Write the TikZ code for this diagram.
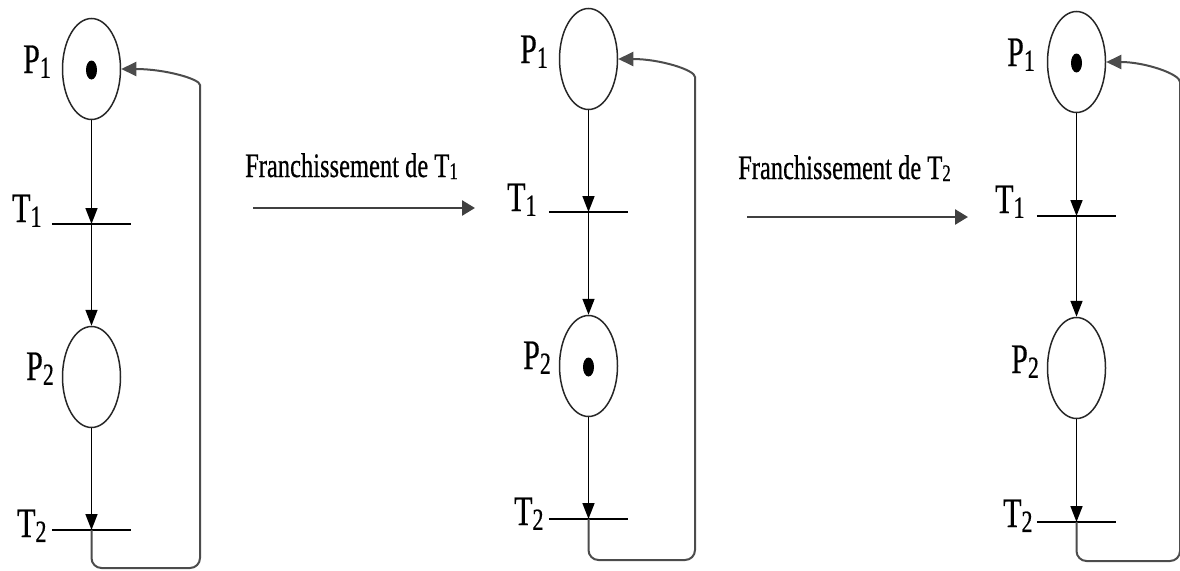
\documentclass[tikz,border=0pt]{standalone}
\usepackage{fontspec}
\setmainfont{Liberation Serif}[FakeBold=0.6]
\usetikzlibrary{arrows.meta,shapes.geometric}
\newcommand{\plab}[2]{\scalebox{1}[1.4]{\fontsize{30}{30}\selectfont #1\raisebox{-3.5pt}{\fontsize{22}{22}\selectfont #2}}}
\newcommand{\flab}[1]{\scalebox{1}[1.4]{\fontsize{24.5}{24.5}\selectfont Franchissement de T\raisebox{-1.5pt}{\fontsize{17}{17}\selectfont #1}}}
\begin{document}
\begin{tikzpicture}[x=1pt,y=-1pt,
  place/.style={ellipse,draw=black!85,line width=1.5pt,minimum width=58pt,minimum height=101pt,inner sep=0pt},
  token/.style={ellipse,fill=black,minimum width=11pt,minimum height=19pt,inner sep=0pt},
  trans/.style={inner sep=0pt,minimum width=79pt,minimum height=0pt},
  bar/.style={line width=2.3pt},
  flow/.style={-{Triangle[length=16pt,width=12pt]},line width=1.6pt},
  backarc/.style={draw=black!70,line width=2pt,rounded corners=10pt,-{Triangle[length=15pt,width=14pt]}},
  bigarrow/.style={draw=black!75,line width=2.6pt,-{Triangle[length=13pt,width=15pt]}},
  lbl/.style={inner sep=0pt,anchor=base west}]
\useasboundingbox (0,0) rectangle (1180,570);
\clip (0,0) rectangle (1180,570);

% ---------- panel 1 ----------
\node[place] (aP1) at (91.5,69) {};
\node[token] (aK1) at (91.5,70) {};
\node[trans] (aT1) at (91.5,224) {};
\node[place] (aP2) at (91.5,377) {};
\node[trans] (aT2) at (91.5,530) {};
\draw[bar] (aT1.west) -- (aT1.east);
\draw[bar] (aT2.west) -- (aT2.east);
\draw[flow] (aP1.south) -- (aT1.center);
\draw[flow] (aT1.center) -- (aP2.north);
\draw[flow] (aP2.south) -- (aT2.center);
\coordinate (aB1) at (200,568);
\coordinate (aB2) at (200,95);
\draw[backarc] (aT2.center) -- (aT2.center |- aB1) -- (aB1) -- (aB2) .. controls (200,79) and (165,69) .. (aP1.east);
\node[lbl] (aL1) at (23,73) {\plab{P}{1}};
\node[lbl] (aL2) at (12,222) {\plab{T}{1}};
\node[lbl] (aL3) at (26,380) {\plab{P}{2}};
\node[lbl] (aL4) at (17,537) {\plab{T}{2}};

% ---------- arrow 1 ----------
\node[lbl] (f1) at (245,177) {\flab{1}};
\coordinate (f1s) at (253,208);
\coordinate (f1e) at (475,208);
\draw[bigarrow] (f1s) -- (f1e);

% ---------- panel 2 ----------
\node[place] (bP1) at (588.5,59) {};
\node[trans] (bT1) at (588.5,212) {};
\node[place] (bP2) at (588.5,366) {};
\node[token] (bK2) at (588.5,367) {};
\node[trans] (bT2) at (588.5,519) {};
\draw[bar] (bT1.west) -- (bT1.east);
\draw[bar] (bT2.west) -- (bT2.east);
\draw[flow] (bP1.south) -- (bT1.center);
\draw[flow] (bT1.center) -- (bP2.north);
\draw[flow] (bP2.south) -- (bT2.center);
\coordinate (bB1) at (695,560);
\coordinate (bB2) at (695,87);
\draw[backarc] (bT2.center) -- (bT2.center |- bB1) -- (bB1) -- (bB2) .. controls (695,70) and (660,59) .. (bP1.east);
\node[lbl] (bL1) at (520,63) {\plab{P}{1}};
\node[lbl] (bL2) at (507,211) {\plab{T}{1}};
\node[lbl] (bL3) at (523,369) {\plab{P}{2}};
\node[lbl] (bL4) at (514,525) {\plab{T}{2}};

% ---------- arrow 2 ----------
\node[lbl] (f2) at (738,179) {\flab{2}};
\coordinate (f2s) at (747,217);
\coordinate (f2e) at (968,217);
\draw[bigarrow] (f2s) -- (f2e);

% ---------- panel 3 ----------
\node[place] (cP1) at (1076.5,62) {};
\node[token] (cK1) at (1076.5,63) {};
\node[trans] (cT1) at (1076.5,216) {};
\node[place] (cP2) at (1076.5,368) {};
\node[trans] (cT2) at (1076.5,522) {};
\draw[bar] (cT1.west) -- (cT1.east);
\draw[bar] (cT2.west) -- (cT2.east);
\draw[flow] (cP1.south) -- (cT1.center);
\draw[flow] (cT1.center) -- (cP2.north);
\draw[flow] (cP2.south) -- (cT2.center);
\coordinate (cB1) at (1180,561);
\coordinate (cB2) at (1180,92);
\draw[backarc] (cT2.center) -- (cT2.center |- cB1) -- (cB1) -- (cB2) .. controls (1180,74) and (1145,62) .. (cP1.east);
\node[lbl] (cL1) at (1007,66) {\plab{P}{1}};
\node[lbl] (cL2) at (995,213) {\plab{T}{1}};
\node[lbl] (cL3) at (1011,373) {\plab{P}{2}};
\node[lbl] (cL4) at (1003,527) {\plab{T}{2}};
\end{tikzpicture}
\end{document}
